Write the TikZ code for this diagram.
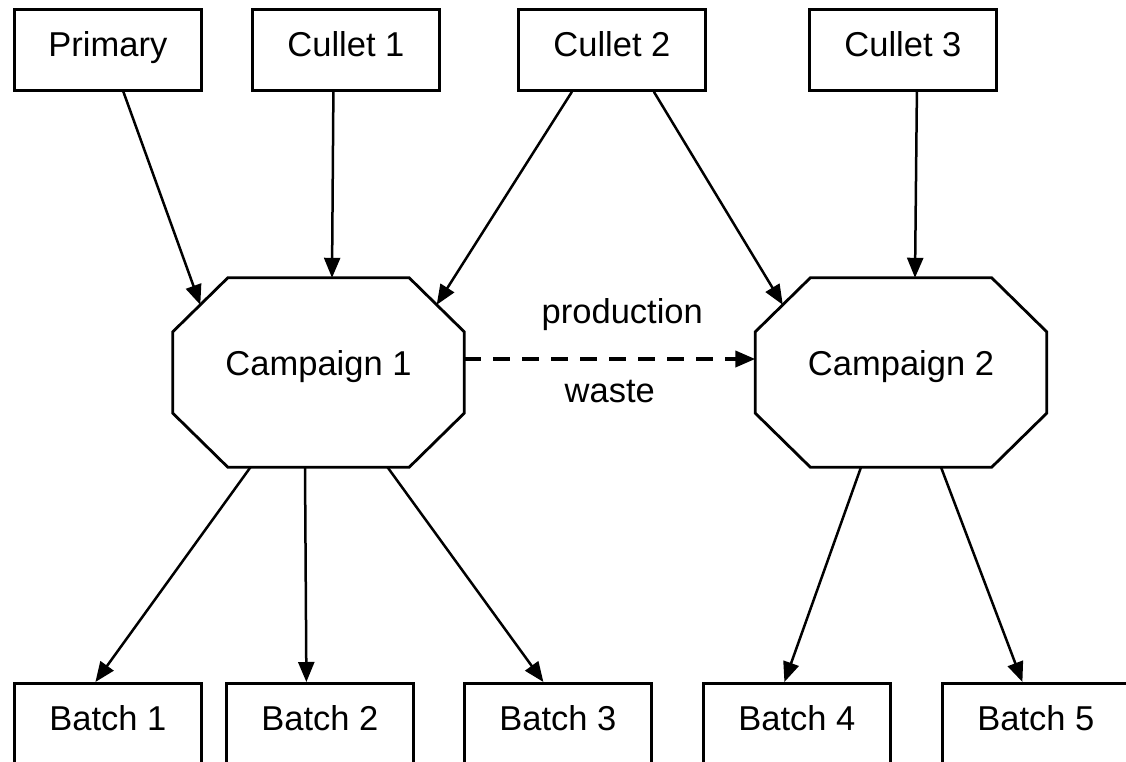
\documentclass[tikz,border=0pt]{standalone}
\usepackage{fontspec}
\setmainfont{Liberation Sans}
\usetikzlibrary{arrows.meta,calc}
\begin{document}
\begin{tikzpicture}[x=1pt,y=-1pt,
  every node/.style={font=\fontsize{34.5}{40}\selectfont},
  box/.style={draw,line width=2.8pt,inner sep=0pt,minimum width=187pt,
    text height=47pt,text depth=34pt,anchor=north west},
  campnode/.style={inner sep=0pt,minimum width=291pt,text height=97pt,text depth=92pt},
  octo/.style={draw,line width=2.8pt,line join=miter},
  conn/.style={line width=2.5pt,-{Triangle[length=20pt,width=16pt]}},
  dasharrow/.style={line width=3.8pt,dash pattern=on 17pt off 12pt,
    -{Triangle[length=20pt,width=16pt]}},
  lbl/.style={anchor=base,inner sep=0pt}]
\useasboundingbox (0,0) rectangle (1126,762);
% top boxes
\node[box] (prim) at (13,8) {Primary};
\node[box] (cul1) at (251,8) {Cullet 1};
\node[box] (cul2) at (517,8) {Cullet 2};
\node[box] (cul3) at (808,8) {Cullet 3};
% bottom boxes
\node[box] (b1) at (13,682) {Batch 1};
\node[box] (b2) at (225,682) {Batch 2};
\node[box] (b3) at (463,682) {Batch 3};
\node[box] (b4) at (702,682) {Batch 4};
\node[box] (b5) at (941,682) {Batch 5};
% campaigns
\node[campnode] (cam1) at (318.5,372.5) {Campaign 1};
\node[campnode] (cam2) at (901,372.5) {Campaign 2};
\foreach \c in {cam1,cam2}{
  \draw[octo] ([xshift=55pt]\c.north west) -- ([xshift=-55pt]\c.north east)
    -- ([yshift=-54pt]\c.north east) -- ([yshift=54pt]\c.south east)
    -- ([xshift=-55pt]\c.south east) -- ([xshift=55pt]\c.south west)
    -- ([yshift=54pt]\c.south west) -- ([yshift=-54pt]\c.north west) -- cycle;
}
% top connectors
\draw[conn] ([xshift=15.5pt]prim.south) -- ([xshift=27.5pt,yshift=-27pt]cam1.north west);
\draw[conn] ([xshift=-12.5pt]cul1.south) -- ([xshift=13.5pt]cam1.north);
\draw[conn] ([xshift=-40pt]cul2.south) -- ([xshift=-27.5pt,yshift=-27pt]cam1.north east);
\draw[conn] ([xshift=42pt]cul2.south) -- ([xshift=27.5pt,yshift=-27pt]cam2.north west);
\draw[conn] ([xshift=14pt]cul3.south) -- ([xshift=14pt]cam2.north);
% bottom connectors
\draw[conn] ([xshift=-68pt]cam1.south) -- ([xshift=-12.5pt]b1.north);
\draw[conn] ([xshift=-13.5pt]cam1.south) -- ([xshift=-13.5pt]b2.north);
\draw[conn] ([xshift=69pt]cam1.south) -- ([xshift=-14.5pt]b3.north);
\draw[conn] ([xshift=-40pt]cam2.south) -- ([xshift=-12.5pt]b4.north);
\draw[conn] ([xshift=40pt]cam2.south) -- ([xshift=-13.5pt]b5.north);
% dashed
\draw[dasharrow] ([yshift=13.5pt]cam1.east) -- ([yshift=13.5pt]cam2.west)
  node[lbl,pos=0.543,yshift=36pt] {production}
  node[lbl,pos=0.5,yshift=-43pt] {waste};
\end{tikzpicture}
\end{document}
